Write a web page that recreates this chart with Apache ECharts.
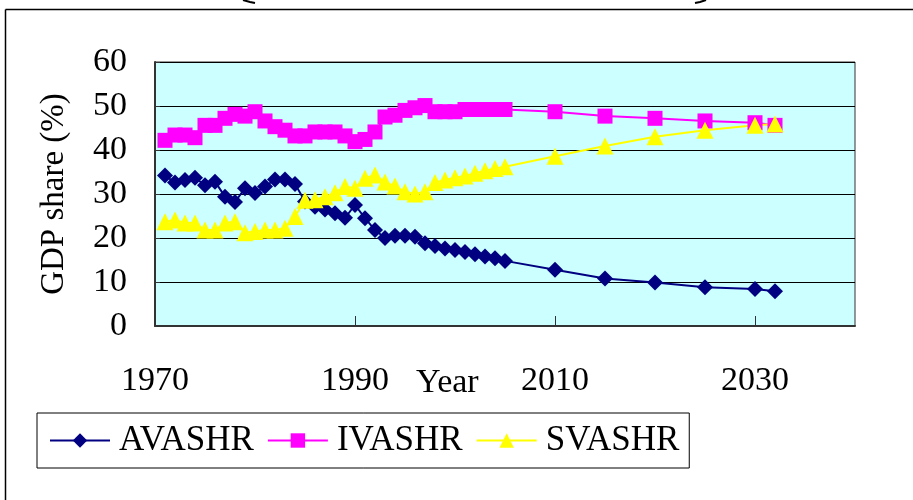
<!DOCTYPE html>
<html lang="en">
<head>
    <meta charset="UTF-8">
    <title>GDP share</title>
    <style>
        html, body { margin: 0; padding: 0; background: #fff; }
        #main { width: 913px; height: 500px; }
    </style>
</head>
<body>
<div id="main"></div>
<script src="https://cdn.jsdelivr.net/npm/echarts@6/dist/echarts.min.js"></script>
<script type="text/javascript">
    var years = [1971, 1972, 1973, 1974, 1975, 1976, 1977, 1978, 1979, 1980,
        1981, 1982, 1983, 1984, 1985, 1986, 1987, 1988, 1989, 1990,
        1991, 1992, 1993, 1994, 1995, 1996, 1997, 1998, 1999, 2000,
        2001, 2002, 2003, 2004, 2005, 2010, 2015, 2020, 2025, 2030, 2032];
    var avashr = [34.2, 32.6, 33.2, 33.7, 32.0, 32.8, 29.4, 28.2, 31.3, 30.2,
        31.7, 33.3, 33.3, 32.3, 28.3, 27.1, 26.5, 25.6, 24.6, 27.5,
        24.5, 21.8, 20.0, 20.5, 20.5, 20.3, 18.8, 18.2, 17.6, 17.3,
        16.8, 16.3, 15.8, 15.4, 14.8, 12.8, 10.8, 9.9, 8.8, 8.4, 7.9];
    var ivashr = [42.2, 43.4, 43.4, 42.8, 45.6, 45.6, 47.2, 48.1, 47.7, 48.7,
        46.6, 45.3, 44.5, 43.2, 43.2, 44.1, 44.1, 44.1, 43.2, 41.9,
        42.4, 44.1, 47.5, 47.9, 49.0, 49.6, 50.1, 48.7, 48.7, 48.7,
        49.2, 49.2, 49.2, 49.2, 49.2, 48.7, 47.7, 47.2, 46.6, 46.2, 45.6];
    var svashr = [23.7, 24.1, 23.4, 23.4, 21.8, 21.8, 23.4, 23.7, 21.2, 21.5,
        21.8, 21.8, 22.2, 24.9, 28.6, 28.7, 29.4, 30.3, 31.7, 31.3,
        33.6, 34.3, 32.7, 31.8, 30.5, 30.0, 30.5, 32.6, 33.2, 33.7,
        34.1, 34.7, 35.3, 35.8, 36.2, 38.6, 40.9, 43.0, 44.5, 45.6, 45.9];
    var seriesNames = ['AVASHR', 'IVASHR', 'SVASHR'];
    var xLabelYears = [1970, 1990, 2010, 2030];

    var font = 'Liberation Serif';

    function pairs(vals) {
        return years.map(function (y, i) { return [y, vals[i]]; });
    }

    function lineSeries(name, vals, color, symbol, size) {
        return {
            name: name,
            type: 'line',
            data: pairs(vals),
            symbol: symbol,
            symbolSize: size,
            itemStyle: { color: color },
            lineStyle: { color: color, width: 2 },
            emphasis: { disabled: true },
            animation: false
        };
    }

    var myChart = echarts.init(document.getElementById('main'));
    var option = {
        animation: false,
        textStyle: { fontFamily: font, color: '#000' },
        grid: {
            left: 155,
            right: 58,
            top: 62,
            bottom: 174,
            show: true,
            backgroundColor: '#CCFFFF',
            borderColor: '#333',
            borderWidth: 1
        },
        legend: {
            left: 37,
            top: 413,
            orient: 'horizontal',
            data: seriesNames,
            itemWidth: 60,
            itemHeight: 18,
            itemGap: 13,
            padding: [10, 10, 10, 12],
            borderColor: '#000',
            borderWidth: 1,
            textStyle: { fontFamily: font, fontSize: 35, color: '#000', padding: [0, 0, 0, 4] }
        },
        xAxis: {
            type: 'value',
            min: 1970,
            max: 2040,
            interval: 20,
            axisLine: { lineStyle: { color: '#333', width: 2 } },
            axisTick: { inside: true, length: 10, lineStyle: { color: '#333' } },
            splitLine: { show: false },
            axisLabel: {
                margin: 38,
                fontFamily: font,
                fontSize: 34,
                color: '#000',
                showMaxLabel: false,
                formatter: function (v) {
                    return xLabelYears.indexOf(v) >= 0 ? String(v) : '';
                }
            }
        },
        yAxis: {
            type: 'value',
            min: 0,
            max: 60,
            interval: 10,
            name: 'GDP share (%)',
            nameLocation: 'middle',
            nameGap: 84,
            nameTextStyle: { fontFamily: font, fontSize: 33, color: '#000' },
            axisLine: { show: true, lineStyle: { color: '#333', width: 2 } },
            axisTick: { show: true, inside: true, length: 5, lineStyle: { color: '#333' } },
            splitLine: { show: true, lineStyle: { color: '#000', width: 1 } },
            axisLabel: { margin: 28, fontFamily: font, fontSize: 34, color: '#000' }
        },
        graphic: [
            // outer frame (left and top edges only visible)
            { type: 'line', shape: { x1: 5.5, y1: 9.5, x2: 913, y2: 9.5 }, style: { stroke: '#000', lineWidth: 1.5 } },
            { type: 'line', shape: { x1: 5.5, y1: 9.5, x2: 5.5, y2: 500 }, style: { stroke: '#000', lineWidth: 1.5 } },
            // ends of the cut-off title box
            { type: 'polyline', shape: { points: [[243, 0], [250, 2], [255, 3]] }, style: { stroke: '#000', lineWidth: 2, fill: null } },
            { type: 'polyline', shape: { points: [[706, 0], [700, 2], [695, 3]] }, style: { stroke: '#000', lineWidth: 2, fill: null } },
            {
                type: 'text',
                left: 416,
                top: 366,
                style: { text: 'Year', font: '34px "Liberation Serif"', fill: '#000' }
            }
        ],
        series: [
            lineSeries(seriesNames[0], avashr, '#000080', 'diamond', 16),
            lineSeries(seriesNames[1], ivashr, '#FF00FF', 'rect', 15),
            lineSeries(seriesNames[2], svashr, '#FFFF00', 'triangle', 17)
        ]
    };
    myChart.setOption(option);
</script>
</body>
</html>
